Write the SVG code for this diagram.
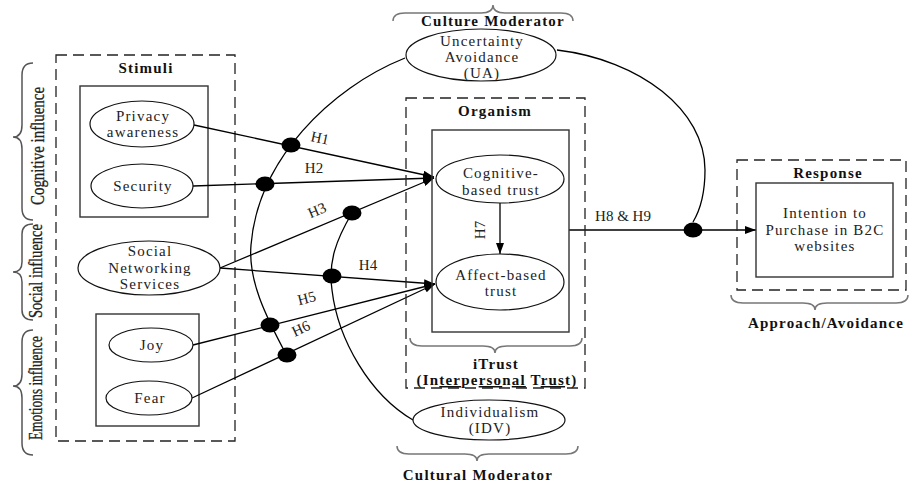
<svg xmlns="http://www.w3.org/2000/svg" width="910" height="483" viewBox="0 0 910 483">
<defs>
<marker id="arr" markerWidth="11" markerHeight="8" refX="11" refY="4" orient="auto" markerUnits="userSpaceOnUse">
<path d="M0,0 L11,4 L0,8 z" fill="#000"/>
</marker>
<style>
.t{font-family:"Liberation Serif","Times New Roman",serif;font-size:15px;letter-spacing:1.2px;fill:#222;text-anchor:middle}
.b{font-family:"Liberation Serif","Times New Roman",serif;font-size:15px;font-weight:bold;letter-spacing:1.2px;fill:#111;text-anchor:middle}
.h{font-family:"Liberation Serif","Times New Roman",serif;font-size:15px;fill:#222;text-anchor:middle}
.side{font-family:"Liberation Serif","Times New Roman",serif;font-size:18px;fill:#222;text-anchor:middle;stroke:#222;stroke-width:0.3}
.dash{fill:none;stroke:#222;stroke-width:1.3;stroke-dasharray:11,6}
.box{fill:none;stroke:#333;stroke-width:1.4}
.el{fill:#fff;stroke:#111;stroke-width:1.2}
.br{fill:none;stroke:#777;stroke-width:1.5}
.brl{fill:none;stroke:#555;stroke-width:1.5}
.ln{fill:none;stroke:#000;stroke-width:1.3}
.dot{fill:#000}
</style>
</defs>
<rect width="910" height="483" fill="#fff"/>

<g id="side-braces">
<path class="brl" d="M33,63 Q22,63 22,75 L22,125 Q22,137 13,137 Q22,137 22,149 L22,208 Q22,220 33,220"/>
<text class="side" transform="translate(44,146) rotate(-90)" textLength="118" lengthAdjust="spacingAndGlyphs">Cognitive influence</text>
<path class="brl" d="M33,224 Q22,224 22,234 L22,262 Q22,272 13,272 Q22,272 22,282 L22,310 Q22,320 33,320"/>
<text class="side" transform="translate(42,271) rotate(-90)" textLength="94" lengthAdjust="spacingAndGlyphs">Social influence</text>
<path class="brl" d="M33,330 Q22,330 22,342 L22,374 Q22,386 13,386 Q22,386 22,398 L22,443 Q22,455 33,455"/>
<text class="side" transform="translate(42,388) rotate(-90)" textLength="104" lengthAdjust="spacingAndGlyphs">Emotions influence</text>
</g>

<g id="stimuli">
<rect class="dash" x="56" y="55" width="179" height="386"/>
<text class="b" x="146" y="73">Stimuli</text>
<rect class="box" x="80" y="86" width="128" height="131"/>
<rect class="box" x="96" y="314" width="103" height="112"/>
</g>

<g id="connectors">
<path class="ln" d="M405,58 C330,88 258,160 251,245 C248,280 265,315 287,356"/>
<path class="ln" d="M352,213 C336,240 328,262 332,290 C338,340 370,395 413,420"/>
<path class="ln" d="M557,50 C640,60 705,110 705,170 C705,195 699,212 693,222"/>
<line class="ln" x1="194" y1="125" x2="434" y2="177" marker-end="url(#arr)"/>
<line class="ln" x1="193" y1="186" x2="434" y2="178" marker-end="url(#arr)"/>
<line class="ln" x1="220" y1="268" x2="434" y2="178" marker-end="url(#arr)"/>
<line class="ln" x1="220" y1="268" x2="435" y2="284" marker-end="url(#arr)"/>
<line class="ln" x1="193" y1="345" x2="435" y2="284" marker-end="url(#arr)"/>
<line class="ln" x1="192" y1="398" x2="435" y2="284" marker-end="url(#arr)"/>
<line class="ln" x1="500" y1="203" x2="500" y2="254" marker-end="url(#arr)"/>
<line class="ln" x1="569" y1="230" x2="756" y2="230" marker-end="url(#arr)"/>
<ellipse class="dot" cx="291" cy="145" rx="9.5" ry="7.5"/>
<ellipse class="dot" cx="265" cy="184" rx="9.5" ry="7.5"/>
<ellipse class="dot" cx="352" cy="213" rx="9.5" ry="7.5"/>
<ellipse class="dot" cx="332" cy="276" rx="9.5" ry="7.5"/>
<ellipse class="dot" cx="270" cy="325" rx="9.5" ry="7.5"/>
<ellipse class="dot" cx="287" cy="355" rx="9.5" ry="7.5"/>
<ellipse class="dot" cx="693" cy="230" rx="9.5" ry="7.5"/>
<text class="h" transform="translate(319,143) rotate(12)">H1</text>
<text class="h" x="314" y="173">H2</text>
<text class="h" transform="translate(319,215) rotate(-23)">H3</text>
<text class="h" x="368" y="270">H4</text>
<text class="h" transform="translate(308,303) rotate(-14)">H5</text>
<text class="h" transform="translate(303,333) rotate(-25)">H6</text>
<text class="h" transform="translate(485,230) rotate(-90)">H7</text>
<text class="h" x="623" y="221">H8 &amp; H9</text>
</g>

<g id="privacy-awareness">
<ellipse class="el" cx="142" cy="124" rx="52" ry="23"/>
<text class="t" x="143" y="121">Privacy</text>
<text class="t" x="143" y="137">awareness</text>
</g>
<g id="security">
<ellipse class="el" cx="142" cy="186" rx="51" ry="22"/>
<text class="t" x="143" y="191">Security</text>
</g>
<g id="social-networking-services">
<ellipse class="el" cx="149" cy="268" rx="71" ry="27"/>
<text class="t" x="150" y="256">Social</text>
<text class="t" x="150" y="273">Networking</text>
<text class="t" x="150" y="289">Services</text>
</g>
<g id="joy">
<ellipse class="el" cx="151" cy="345" rx="42" ry="17"/>
<text class="t" x="152" y="350">Joy</text>
</g>
<g id="fear">
<ellipse class="el" cx="149" cy="398" rx="43" ry="17"/>
<text class="t" x="150" y="403">Fear</text>
</g>

<g id="uncertainty-avoidance">
<path class="br" d="M393,21 Q393,13 405,13 L481,13 Q493,13 493,5 Q493,13 505,13 L561,13 Q573,13 573,21"/>
<text class="b" x="493" y="26">Culture Moderator</text>
<ellipse class="el" cx="481" cy="55" rx="75" ry="26"/>
<text class="t" x="482" y="46">Uncertainty</text>
<text class="t" x="482" y="62">Avoidance</text>
<text class="t" x="482" y="78">(UA)</text>
</g>

<g id="organism">
<rect class="dash" x="406" y="98" width="179" height="290"/>
<text class="b" x="495" y="116">Organism</text>
<rect class="box" x="432" y="130" width="137" height="202"/>
<path class="br" d="M410,338 Q410,346 422,346 L483,346 Q495,346 495,353 Q495,346 507,346 L570,346 Q582,346 582,338"/>
<text class="b" x="496" y="369">iTrust</text>
<text class="b" x="497" y="385" font-size="14" letter-spacing="0.6">(In<tspan text-decoration="underline">ter</tspan>pe<tspan text-decoration="underline">rso</tspan>n<tspan text-decoration="underline">al</tspan> T<tspan text-decoration="underline">rus</tspan>t)</text>
</g>
<g id="cognitive-based-trust">
<ellipse class="el" cx="500" cy="179" rx="64" ry="24"/>
<text class="t" x="501" y="178">Cognitive-</text>
<text class="t" x="501" y="195">based trust</text>
</g>
<g id="affect-based-trust">
<ellipse class="el" cx="500" cy="282" rx="64" ry="28"/>
<text class="t" x="501" y="280">Affect-based</text>
<text class="t" x="501" y="296">trust</text>
</g>

<g id="individualism">
<ellipse class="el" cx="489" cy="420" rx="76" ry="20"/>
<text class="t" x="490" y="417">Individualism</text>
<text class="t" x="490" y="433">(IDV)</text>
<path class="br" d="M397,446 Q397,454 409,454 L465,454 Q477,454 477,461 Q477,454 489,454 L566,454 Q578,454 578,446"/>
<text class="b" x="478" y="480">Cultural Moderator</text>
</g>

<g id="response">
<rect class="dash" x="737" y="160" width="169" height="130"/>
<text class="b" x="828" y="178">Response</text>
<rect class="box" x="756" y="183" width="137" height="94"/>
<text class="t" x="825" y="218">Intention to</text>
<text class="t" x="825" y="235">Purchase in B2C</text>
<text class="t" x="825" y="251">websites</text>
<path class="br" d="M731,295 Q731,303 743,303 L803,303 Q815,303 815,310 Q815,303 827,303 L896,303 Q908,303 908,295"/>
<text class="b" x="826" y="328" letter-spacing="1.5">Approach/Avoidance</text>
</g>
</svg>
